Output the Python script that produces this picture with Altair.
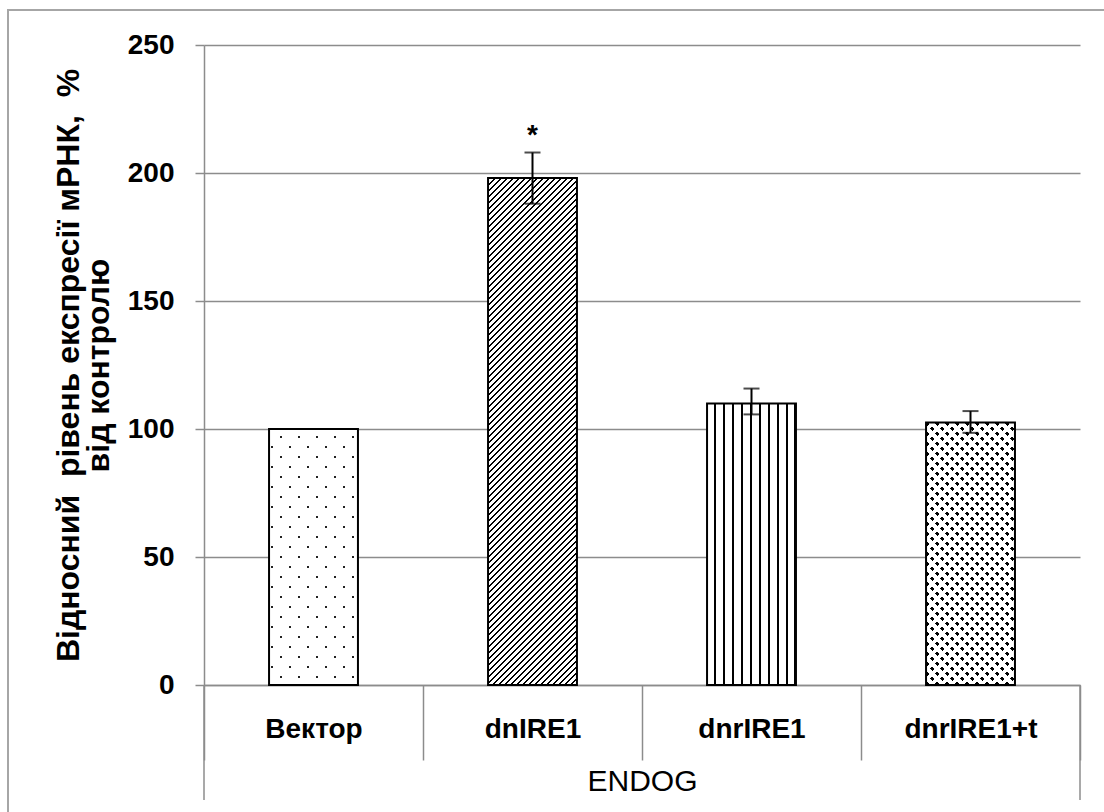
import altair as alt
import pandas as pd

# ---------------- data ----------------
categories = ["Вектор", "dnIRE1", "dnrIRE1", "dnrIRE1+t"]
values = [100, 198, 110, 102.5]
err_low = [None, 188, 105.7, 98.5]
err_high = [None, 208, 115.8, 107]
stars = ["", "*", "", ""]
group_label = "ENDOG"
y_title = ["Відносний\u00a0 рівень експресії мРНК,\u00a0 %", "від контролю"]
y_ticks = [0, 50, 100, 150, 200, 250]

# ---------------- layout ----------------
PLOT_W, PLOT_H = 876, 640
Y_MAX = 250
BAR_FRAC = 0.406
FONT = "Liberation Sans, Arial, sans-serif"
GRAY = "#8c8c8c"

step = PLOT_W / len(categories)
bar_w = step * BAR_FRAC

df = pd.DataFrame({"cat": categories, "value": values,
                   "lo": err_low, "hi": err_high, "star": stars})


def stripe_grad(w, h, px, py, frac, on, off, phase=0.0, down=False):
    """Linear gradient that paints repeating stripes over a w x h bar."""
    a = 1.0 / px if px else 0.0
    b = 1.0 / py if py else 0.0
    span = a * w + b * h
    k = span / ((a * w) ** 2 + (b * h) ** 2)
    p, q = k * a * w, k * b * h
    if down:
        x1, y1, x2, y2 = 0.0, 1.0, p, 1.0 - q
    else:
        x1, y1, x2, y2 = 0.0, 0.0, p, q
    stops = []
    i = -1
    while True:
        s0 = (i + phase) / span
        if s0 > 1:
            break
        s1 = (i + phase + frac) / span
        s2 = (i + 1 + phase) / span
        for o, c in ((s0, on), (s1, on), (s1, off), (s2, off)):
            stops.append({"offset": round(min(max(o, 0.0), 1.0), 5), "color": c})
        i += 1
    return {"gradient": "linear", "x1": round(x1, 6), "y1": round(y1, 6),
            "x2": round(x2, 6), "y2": round(y2, 6), "stops": stops}


x_axis = alt.Axis(
    tickBand="extent", tickSize=75, tickColor=GRAY, tickWidth=1.5,
    domainColor=GRAY, domainWidth=1.5, grid=False,
    labelAngle=0, labelFont=FONT, labelFontSize=28, labelFontWeight="bold",
    labelColor="black", labelPadding=-45,
    title=group_label, titleFont=FONT, titleFontSize=30, titleFontWeight="normal",
    titleColor="black", titlePadding=6,
)
y_axis = alt.Axis(
    values=y_ticks, grid=True, gridColor=GRAY, gridWidth=1.5,
    domainColor=GRAY, domainWidth=1.5, tickColor=GRAY, tickWidth=1.5, tickSize=9,
    labelFont=FONT, labelFontSize=28, labelFontWeight="bold", labelColor="black",
    labelPadding=21,
    title=y_title, titleFont=FONT, titleFontSize=32, titleFontWeight="bold",
    titleColor="black", titlePadding=12, titleLineHeight=30,
)

x_enc = alt.X("cat:N", sort=categories,
              scale=alt.Scale(paddingInner=0, paddingOuter=0), axis=x_axis)
y_enc = alt.Y("value:Q", scale=alt.Scale(domain=[0, Y_MAX], nice=False, zero=True),
              axis=y_axis)

base = alt.Chart(df)


def bar_layer(cat, fill):
    return base.transform_filter(alt.datum.cat == cat).mark_bar(
        width=alt.RelativeBandSize(BAR_FRAC), fill=fill, strokeWidth=0
    ).encode(x=x_enc, y=y_enc)


layers = []
# chart frame
layers.append(
    alt.Chart(pd.DataFrame({"a": [0]})).mark_rect(
        fill="transparent", stroke="#a6a6a6", strokeWidth=2
    ).encode(x=alt.value(-196), x2=alt.value(PLOT_W + 40),
             y=alt.value(-35), y2=alt.value(PLOT_H + 160))
)

for cat, val in zip(categories, values):
    h = val / Y_MAX * PLOT_H
    if cat == "Вектор":
        layers.append(bar_layer(cat, stripe_grad(bar_w, h, 18, 20, 0.16, "#222", "white")))
        layers.append(bar_layer(cat, stripe_grad(bar_w, h, 18, 20, 0.16, "transparent",
                                                 "white", down=True)))
    elif cat == "dnIRE1":
        layers.append(bar_layer(cat, stripe_grad(bar_w, h, 6, 6, 0.36, "black", "white")))
    elif cat == "dnrIRE1":
        layers.append(bar_layer(cat, stripe_grad(bar_w, h, 8.9, None, 0.24, "black",
                                                 "white", phase=0.82)))
    else:
        layers.append(bar_layer(cat, stripe_grad(bar_w, h, 10, 10, 0.46, "black", "white")))
        layers.append(bar_layer(cat, stripe_grad(bar_w, h, 10, 10, 0.46, "transparent",
                                                 "white", down=True)))

# bar outlines
layers.append(
    base.mark_bar(width=alt.RelativeBandSize(BAR_FRAC), fill="transparent",
                  stroke="black", strokeWidth=2).encode(x=x_enc, y=y_enc)
)

err = base.transform_filter("isValid(datum.lo)")
layers.append(err.mark_rule(color="black", strokeWidth=2).encode(
    x=x_enc, y=alt.Y("lo:Q"), y2="hi:Q"))
layers.append(err.mark_tick(color="black", thickness=2, size=16).encode(
    x=x_enc, y=alt.Y("lo:Q")))
layers.append(err.mark_tick(color="black", thickness=2, size=16).encode(
    x=x_enc, y=alt.Y("hi:Q")))

layers.append(
    base.transform_filter("datum.star != ''").mark_text(
        font=FONT, fontSize=28, fontWeight="bold", color="black",
        baseline="alphabetic", dy=-9
    ).encode(x=x_enc, y=alt.Y("hi:Q"), text="star:N")
)

# long outer dividers under the category axis
layers.append(
    alt.Chart(pd.DataFrame({"a": [0]})).mark_rule(color=GRAY, strokeWidth=1.5).encode(
        x=alt.value(0), y=alt.value(PLOT_H), y2=alt.value(PLOT_H + 115))
)
layers.append(
    alt.Chart(pd.DataFrame({"a": [0]})).mark_rule(color=GRAY, strokeWidth=1.5).encode(
        x=alt.value(PLOT_W), y=alt.value(PLOT_H), y2=alt.value(PLOT_H + 115))
)

chart = alt.layer(*layers).properties(
    width=PLOT_W, height=PLOT_H,
    padding={"left": 204, "top": 45, "right": 24, "bottom": 127},
    autosize=alt.AutoSizeParams(type="none"),
    background="white",
).configure_view(stroke=None)

chart.save("out.html", embed_options={"renderer": "svg", "actions": False})
